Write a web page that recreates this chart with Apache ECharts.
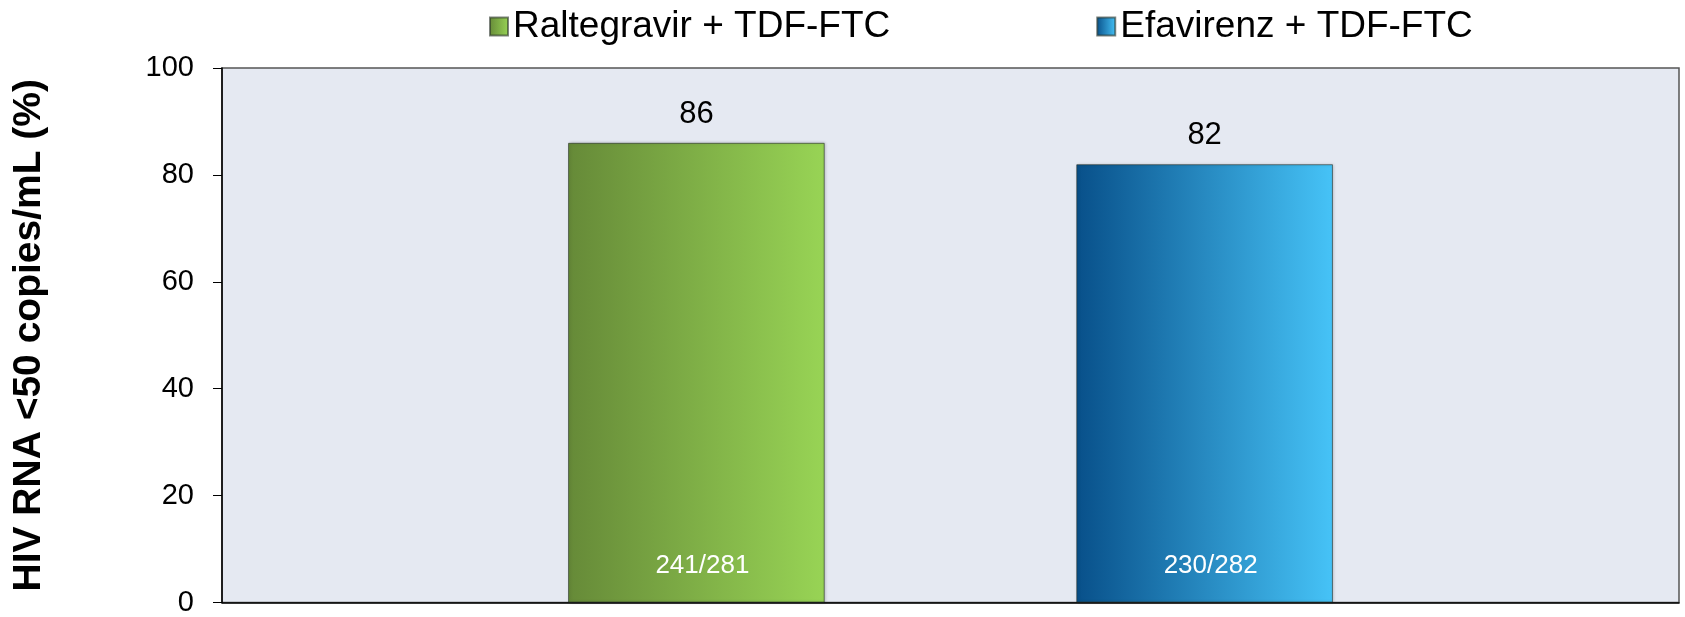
<!DOCTYPE html>
<html>
<head>
<meta charset="utf-8">
<script src="https://cdn.jsdelivr.net/npm/echarts@6/dist/echarts.min.js"></script>
<style>
html,body{margin:0;padding:0;background:#fff;}
#chart{width:1685px;height:617px;}
</style>
</head>
<body>
<div id="chart"></div>
<script>
var armNames = ['Raltegravir + TDF-FTC', 'Efavirenz + TDF-FTC'];
var pctValues = [86, 82];
var fractions = ['241/281', '230/282'];
var yTicks = [0, 20, 40, 60, 80, 100];

var fills = [
	['#668a38', '#98d455'],
	['#08508a', '#46c3f7']
];

function grad(c){
	return new echarts.graphic.LinearGradient(0, 0, 1, 0, [
		{offset:0, color:c[0]},
		{offset:1, color:c[1]}
	]);
}

var series = [];
for(var i=0;i<armNames.length;i++){
	series.push({
		name: armNames[i],
		type: 'bar',
		xAxisIndex: 0,
		data: [pctValues[i]],
		barGap: '98%',
		barCategoryGap: '47.5%',
		itemStyle: {
			color: grad(fills[i]),
			borderColor: 'rgba(40,50,40,0.6)',
			borderWidth: 1,
			shadowColor: 'rgba(0,0,0,0.25)',
			shadowBlur: 3,
			shadowOffsetX: 1
		},
		label: {
			show: true,
			position: 'top',
			distance: 13,
			color: '#000',
			fontSize: 31,
			fontFamily: 'Liberation Sans, Arial, sans-serif'
		}
	});
}
// fraction labels on a hidden twin axis, same layout as the real bars
for(var i=0;i<armNames.length;i++){
	series.push({
		name: 'n' + i,
		type: 'bar',
		xAxisIndex: 1,
		data: [pctValues[i]],
		barGap: '98%',
		barCategoryGap: '47.5%',
		itemStyle: {color: 'rgba(0,0,0,0)'},
		silent: true,
		label: {
			show: true,
			position: 'insideBottom',
			distance: 24,
			offset: [6, 0],
			color: '#fff',
			fontSize: 26,
			fontFamily: 'Liberation Sans, Arial, sans-serif',
			formatter: (function(t){ return function(){ return t; }; })(fractions[i])
		}
	});
}

var option = {
	animation: false,
	backgroundColor: '#fff',
	legend: {
		data: armNames.map(function(n, k){
			return {name: n, itemStyle: {color: grad(fills[k])}};
		}),
		top: 3,
		left: 484,
		itemWidth: 18,
		itemHeight: 18,
		itemGap: 206,
		icon: 'rect',
		textStyle: {
			fontSize: 37,
			color: '#000',
			fontFamily: 'Liberation Sans, Arial, sans-serif',
			padding: [0, 0, 0, 0]
		}
	},
	grid: {
		left: 222,
		right: 6,
		top: 68,
		bottom: 11,
		show: true,
		backgroundColor: '#e5e9f2',
		borderColor: '#555',
		borderWidth: 1.5
	},
	xAxis: [{
		type: 'category',
		data: [''],
		axisLine: {lineStyle: {color: '#000', width: 1.5}},
		axisTick: {show: false},
		axisLabel: {show: false}
	},{
		type: 'category',
		data: [''],
		show: false
	}],
	yAxis: {
		type: 'value',
		min: yTicks[0],
		max: yTicks[yTicks.length-1],
		interval: 20,
		name: 'HIV RNA <50 copies/mL (%)',
		nameLocation: 'middle',
		nameGap: 173,
		nameTextStyle: {
			fontSize: 39,
			fontWeight: 'bold',
			color: '#000',
			fontFamily: 'Liberation Sans, Arial, sans-serif'
		},
		axisLine: {show: true, lineStyle: {color: '#000', width: 1.5}},
		axisTick: {show: true, length: 9, lineStyle: {color: '#000'}},
		splitLine: {show: false},
		axisLabel: {
			fontSize: 29,
			color: '#000',
			margin: 28,
			fontFamily: 'Liberation Sans, Arial, sans-serif'
		}
	},
	series: series
};

var myChart = echarts.init(document.getElementById('chart'));
myChart.setOption(option);
</script>
</body>
</html>
